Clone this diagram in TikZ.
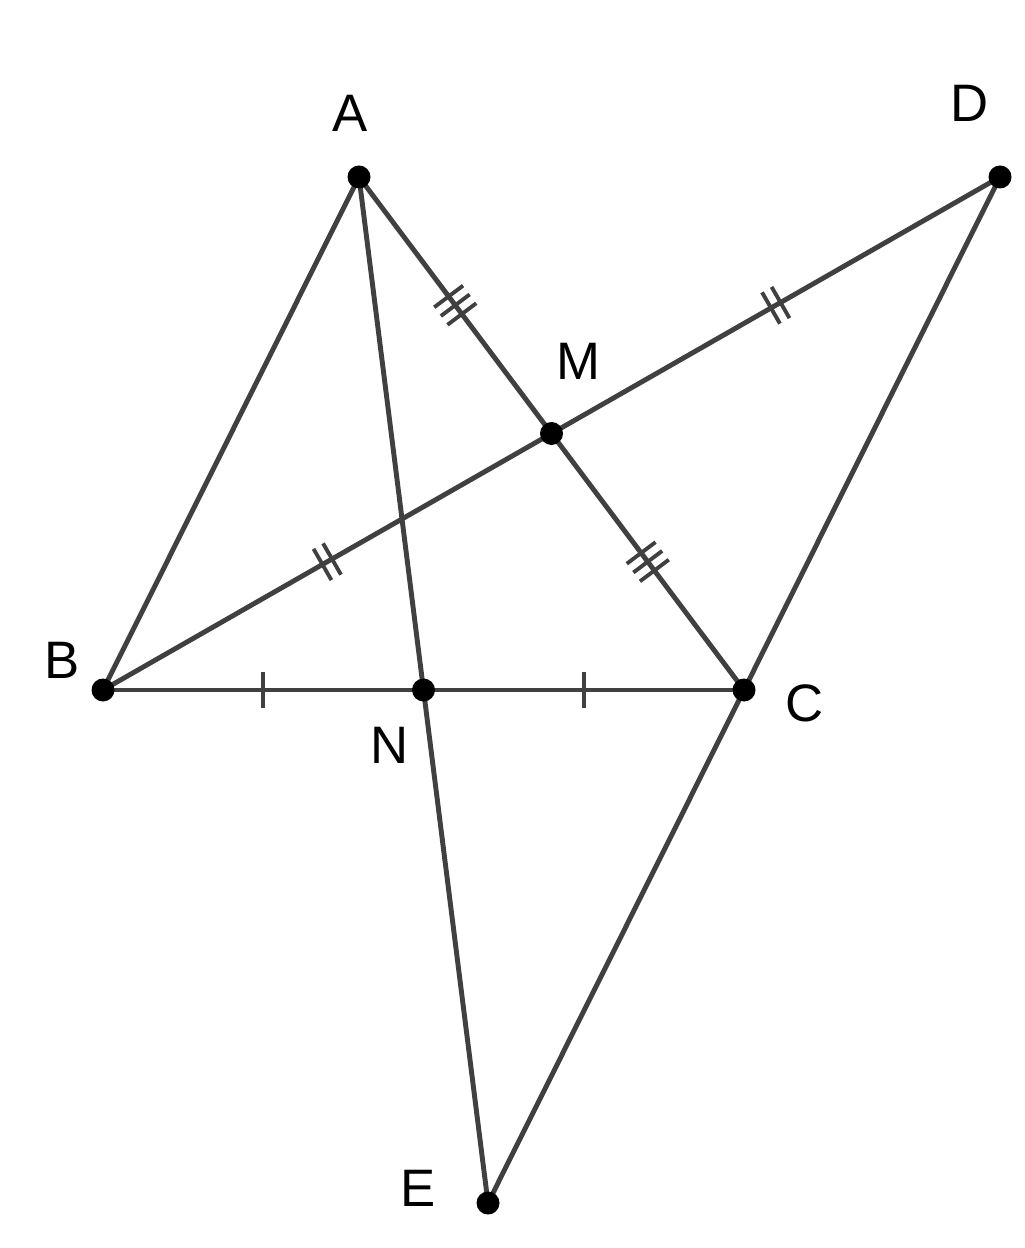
\documentclass[tikz,border=0pt]{standalone}
\usepackage{fontspec}
\setmainfont{Liberation Sans}
\usetikzlibrary{decorations.markings}
\definecolor{lgray}{rgb}{0.25,0.25,0.25}

\tikzset{
  seg/.style={draw=lgray, line width=1.4pt},
  onetick/.style={postaction={decorate,decoration={markings,
    mark=at position 0.5 with {\draw[lgray, line width=1.1pt] (0,-0.18)--(0,0.18);}}}},
  twotick/.style={postaction={decorate,decoration={markings,
    mark=at position 0.5 with {\foreach \t in {-0.055,0.055} \draw[lgray, line width=1.1pt] (\t,-0.18)--(\t,0.18);}}}},
  threetick/.style={postaction={decorate,decoration={markings,
    mark=at position 0.5 with {\foreach \t in {-0.11,0,0.11} \draw[lgray, line width=1.1pt] (\t,-0.18)--(\t,0.18);}}}},
  pt/.style={circle, fill=black, inner sep=0pt, minimum size=0.23cm},
  lbl/.style={font=\fontsize{15}{18}\selectfont, inner sep=0pt}
}

\begin{document}
\begin{tikzpicture}
    \useasboundingbox (0,0) rectangle (10.24,-12.48);
    % the points
    \coordinate (A) at (3.59,-1.77);
    \coordinate (D) at (10.00,-1.77);
    \coordinate (B) at (1.03,-6.90);
    \coordinate (C) at (7.44,-6.90);
    \coordinate (M) at (5.515,-4.335);
    \coordinate (N) at (4.235,-6.90);
    \coordinate (E) at (4.88,-12.03);
    % the sides
    \draw[seg] (A)--(B);
    \draw[seg] (D)--(C)--(E);
    \draw[seg] (A)--(N)--(E);
    \draw[seg, threetick] (A)--(M);
    \draw[seg, threetick] (M)--(C);
    \draw[seg, twotick] (B)--(M);
    \draw[seg, twotick] (M)--(D);
    \draw[seg, onetick] (B)--(N);
    \draw[seg, onetick] (N)--(C);
    \foreach \p in {A,B,C,D,E,M,N}
    \node[pt] at (\p) {};
    % the names
    \node[lbl] (lA) at (3.50,-1.13) {A};
    \node[lbl] (lD) at (9.70,-1.03) {D};
    \node[lbl] (lM) at (5.78,-3.61) {M};
    \node[lbl] (lB) at (0.62,-6.60) {B};
    \node[lbl] (lC) at (8.05,-7.03) {C};
    \node[lbl] (lN) at (3.90,-7.45) {N};
    \node[lbl] (lE) at (4.18,-11.88) {E};
\end{tikzpicture}
\end{document}
